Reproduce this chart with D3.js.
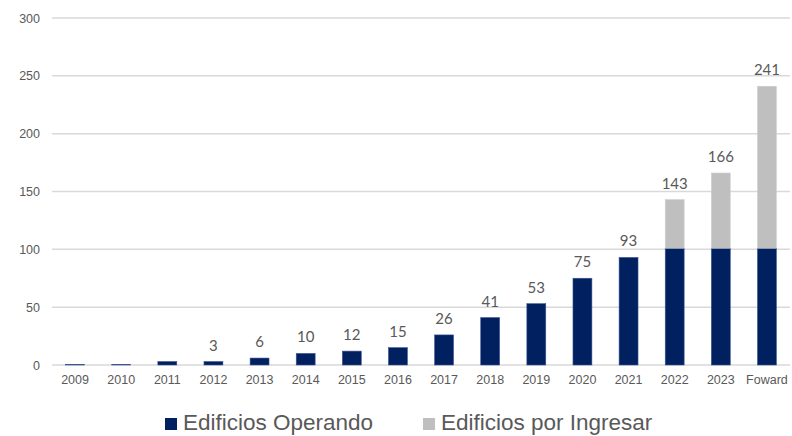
<!DOCTYPE html>
<html>
<head>
<meta charset="utf-8">
<script src="https://cdn.jsdelivr.net/npm/d3@7"></script>
<style>
  html, body { margin: 0; padding: 0; background: #fff; }
  svg { display: block; }
</style>
</head>
<body>
<svg id="chart" width="792" height="436"></svg>
<script>
// Building count per year, split into operating and pending buildings
const categories = ["2009", "2010", "2011", "2012", "2013", "2014", "2015", "2016",
                    "2017", "2018", "2019", "2020", "2021", "2022", "2023", "Foward"];
const operando   = [0.5, 0.5, 3, 3, 6, 10, 12, 15, 26, 41, 53, 75, 93, 101, 101, 101];
const porIngresar = [0, 0, 0, 0, 0, 0, 0, 0, 0, 0, 0, 0, 0, 42, 65, 140];
const totalLabels = [null, null, null, 3, 6, 10, 12, 15, 26, 41, 53, 75, 93, 143, 166, 241];
const yTicks = [0, 50, 100, 150, 200, 250, 300];
const seriesNames = ["Edificios Operando", "Edificios por Ingresar"];

const colors = { operando: "#002060", ingresar: "#bfbfbf" };

const svg = d3.select("#chart");
const plot = { left: 52, right: 790, top: 18, bottom: 365 };

const x = d3.scaleBand()
  .domain(categories)
  .range([plot.left, plot.right])
  .paddingInner(0.59)
  .paddingOuter(0.295);

const y = d3.scaleLinear()
  .domain([0, 300])
  .range([plot.bottom, plot.top]);

// Horizontal gridlines
svg.append("g")
  .selectAll("line")
  .data(yTicks)
  .join("line")
  .attr("x1", plot.left)
  .attr("x2", plot.right)
  .attr("y1", d => y(d))
  .attr("y2", d => y(d))
  .attr("stroke", "#d9d9d9")
  .attr("stroke-width", 1.5);

// Y axis labels
const yAxis = svg.append("g")
  .attr("transform", `translate(${plot.left - 12},0)`)
  .call(d3.axisLeft(y).tickValues(yTicks).tickSize(0).tickPadding(0));
yAxis.select(".domain").remove();
yAxis.selectAll("text")
  .attr("font-family", "Liberation Sans, Arial, sans-serif")
  .attr("font-size", 12.5)
  .attr("fill", "#595959");

// X axis labels
const xAxis = svg.append("g")
  .attr("transform", `translate(0,${plot.bottom + 10})`)
  .call(d3.axisBottom(x).tickSize(0).tickPadding(0));
xAxis.select(".domain").remove();
xAxis.selectAll("text")
  .attr("font-family", "Liberation Sans, Arial, sans-serif")
  .attr("font-size", 12.5)
  .attr("fill", "#595959");

// Stacked bars
const rows = categories.map((c, i) => ({ cat: c, operando: operando[i], ingresar: porIngresar[i] }));
const stack = d3.stack().keys(["operando", "ingresar"])(rows);

svg.append("g")
  .selectAll("g")
  .data(stack)
  .join("g")
  .attr("fill", d => colors[d.key])
  .attr("stroke", d => d.key === "operando" ? "#3a5590" : "#cfcfcf")
  .attr("stroke-width", 0.6)
  .selectAll("rect")
  .data(d => d.filter(s => s[1] - s[0] > 0))
  .join("rect")
  .attr("x", d => x(d.data.cat))
  .attr("width", x.bandwidth())
  .attr("y", d => y(d[1]))
  .attr("height", d => y(d[0]) - y(d[1]));

// Total value labels above bars
svg.append("g")
  .selectAll("text")
  .data(categories.map((c, i) => ({ cat: c, value: totalLabels[i] })).filter(d => d.value !== null))
  .join("text")
  .attr("x", d => x(d.cat) + x.bandwidth() / 2)
  .attr("y", d => y(d.value) - 11)
  .attr("text-anchor", "middle")
  .attr("font-family", "Lato, 'Open Sans', sans-serif")
  .attr("font-size", 15)
  .attr("fill", "#595959")
  .text(d => d.value);

// Legend
const legend = svg.append("g");
const legendItems = [
  { name: seriesNames[0], color: colors.operando, x: 165 },
  { name: seriesNames[1], color: colors.ingresar, x: 423 }
];
const li = legend.selectAll("g")
  .data(legendItems)
  .join("g")
  .attr("transform", d => `translate(${d.x},418)`);
li.append("rect")
  .attr("width", 12)
  .attr("height", 12)
  .attr("fill", d => d.color);
li.append("text")
  .attr("x", 18)
  .attr("y", 12)
  .attr("font-family", "Liberation Sans, Arial, sans-serif")
  .attr("font-size", 22.5)
  .attr("fill", "#595959")
  .text(d => d.name);
</script>
</body>
</html>
